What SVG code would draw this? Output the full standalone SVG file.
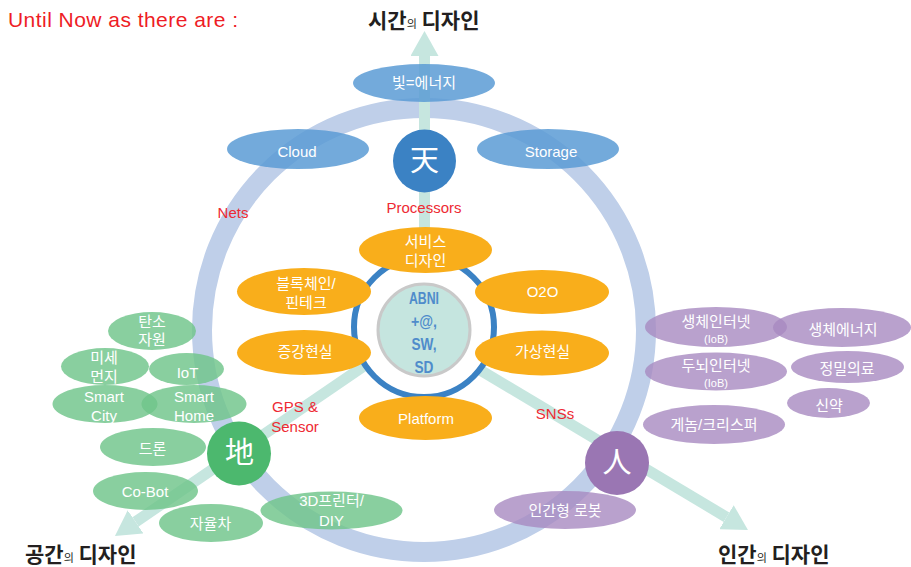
<svg xmlns="http://www.w3.org/2000/svg" width="911" height="567" viewBox="0 0 911 567">
<defs>
<style>
text{font-family:"Liberation Sans","Noto Sans CJK KR",sans-serif;}
.lbl{fill:#ffffff;font-size:15px;text-anchor:middle;}
.sm{font-size:11px;}
.red{fill:#ee2a33;font-size:15px;text-anchor:middle;}
.big{fill:#ffffff;font-size:29px;text-anchor:middle;font-family:"Noto Sans CJK KR","Noto Sans CJK SC",sans-serif;}
.head{fill:#231f20;font-size:21px;font-weight:bold;font-family:"Noto Sans CJK KR",sans-serif;}
.head .ui{font-size:11px;font-weight:normal;}
.core{fill:#4f8ccb;font-size:16px;font-weight:bold;text-anchor:middle;}
.axis{stroke:#c6e6df;stroke-width:11;fill:none;}
.blue{fill:#5b9bd5;fill-opacity:0.85;}
.orange{fill:#f9ae1b;}
.green{fill:#6fc48a;fill-opacity:0.82;}
.purple{fill:#a889c0;fill-opacity:0.8;}
</style>
<marker id="ah" viewBox="0 0 25 28" refX="0" refY="14" markerWidth="25" markerHeight="28" markerUnits="userSpaceOnUse" orient="auto">
<path d="M0,0 L25,14 L0,28 Z" fill="#c6e6df"/>
</marker>
</defs>
<rect width="911" height="567" fill="#ffffff"/>

<text x="8" y="27" fill="#ee1c25" font-size="21" textLength="230">Until Now as there are :</text>
<text class="head" x="368" y="28">시간<tspan class="ui">의</tspan> 디자인</text>
<text class="head" x="25" y="562">공간<tspan class="ui">의</tspan> 디자인</text>
<text class="head" x="718" y="562">인간<tspan class="ui">의</tspan> 디자인</text>

<circle id="cycle" cx="424" cy="330" r="222" fill="none" stroke="#bfcfe9" stroke-width="20"/>

<g id="connectors">
<line class="axis" x1="424.5" y1="330" x2="424.5" y2="56" marker-end="url(#ah)"/>
<line class="axis" x1="424" y1="325" x2="135.6" y2="521.9" marker-end="url(#ah)"/>
<line class="axis" x1="424" y1="336.5" x2="726.5" y2="517.2" marker-end="url(#ah)"/>
</g>

<g id="core">
<circle cx="424" cy="327" r="70" fill="#ffffff" stroke="#3b82c4" stroke-width="6"/>
<circle cx="424" cy="330" r="46" fill="#c5e5df" stroke="#c9c9c9" stroke-width="3"/>
<text class="core" x="424" y="304" textLength="30" lengthAdjust="spacingAndGlyphs">ABNI</text>
<text class="core" x="424" y="327" textLength="26" lengthAdjust="spacingAndGlyphs">+@,</text>
<text class="core" x="424" y="350" textLength="25" lengthAdjust="spacingAndGlyphs">SW,</text>
<text class="core" x="424" y="373" textLength="19" lengthAdjust="spacingAndGlyphs">SD</text>
</g>

<g id="edge-labels">
<text class="red" x="424" y="213">Processors</text>
<text class="red" x="233" y="218">Nets</text>
<text class="red" x="295" y="412">GPS &amp;</text>
<text class="red" x="295" y="432">Sensor</text>
<text class="red" x="555" y="419">SNSs</text>
</g>

<g id="n-light"><ellipse class="blue" cx="424" cy="83" rx="71" ry="19"/><text class="lbl" x="424" y="88">빛=에너지</text></g>
<g id="n-cloud"><ellipse class="blue" cx="298" cy="149" rx="71" ry="20"/><text class="lbl" x="297" y="157">Cloud</text></g>
<g id="n-storage"><ellipse class="blue" cx="548" cy="149" rx="71" ry="20"/><text class="lbl" x="551" y="157">Storage</text></g>

<g id="n-service"><ellipse class="orange" cx="425.5" cy="250" rx="66.5" ry="23"/><text class="lbl" x="425.5" y="247">서비스</text><text class="lbl" x="425.5" y="266">디자인</text></g>
<g id="n-block"><ellipse class="orange" cx="304" cy="291.5" rx="67" ry="23.5"/><text class="lbl" x="306" y="289">블록체인/</text><text class="lbl" x="306" y="308">핀테크</text></g>
<g id="n-o2o"><ellipse class="orange" cx="542" cy="292" rx="67" ry="22"/><text class="lbl" x="542.5" y="297">O2O</text></g>
<g id="n-ar"><ellipse class="orange" cx="304" cy="352.5" rx="67" ry="22.5"/><text class="lbl" x="305" y="357">증강현실</text></g>
<g id="n-vr"><ellipse class="orange" cx="542" cy="353" rx="67" ry="22.5"/><text class="lbl" x="542.5" y="357">가상현실</text></g>
<g id="n-platform"><ellipse class="orange" cx="425.5" cy="418" rx="66.5" ry="22"/><text class="lbl" x="426" y="424">Platform</text></g>

<g id="n-carbon"><ellipse class="green" cx="152" cy="331" rx="44" ry="19"/><text class="lbl" x="152" y="327">탄소</text><text class="lbl" x="152" y="345">자원</text></g>
<g id="n-dust"><ellipse class="green" cx="105" cy="366.5" rx="44" ry="18.5"/><text class="lbl" x="104" y="363">미세</text><text class="lbl" x="104" y="382">먼지</text></g>
<g id="n-iot"><ellipse class="green" cx="186.5" cy="369" rx="37.5" ry="16"/><text class="lbl" x="187.5" y="378">IoT</text></g>
<g id="n-city"><ellipse class="green" cx="105" cy="404" rx="52.5" ry="19"/><text class="lbl" x="104" y="402">Smart</text><text class="lbl" x="104" y="421">City</text></g>
<g id="n-home"><ellipse class="green" cx="194" cy="404" rx="52.5" ry="19"/><text class="lbl" x="194" y="402">Smart</text><text class="lbl" x="194" y="421">Home</text></g>
<g id="n-drone"><ellipse class="green" cx="153" cy="447" rx="53" ry="19"/><text class="lbl" x="152.5" y="454">드론</text></g>
<g id="n-cobot"><ellipse class="green" cx="145.5" cy="491" rx="52.5" ry="19"/><text class="lbl" x="145" y="497">Co-Bot</text></g>
<g id="n-car"><ellipse class="green" cx="211" cy="523" rx="52" ry="19"/><text class="lbl" x="210.5" y="529">자율차</text></g>
<g id="n-3d"><ellipse class="green" cx="331.5" cy="510.5" rx="71" ry="19"/><text class="lbl" x="331.5" y="506">3D프린터/</text><text class="lbl" x="331.5" y="526">DIY</text></g>

<g id="n-iob1"><ellipse class="purple" cx="716" cy="327" rx="71" ry="20"/><text class="lbl" x="716" y="327">생체인터넷</text><text class="lbl sm" x="716" y="343">(IoB)</text></g>
<g id="n-bioenergy"><ellipse class="purple" cx="842" cy="327.5" rx="69" ry="19.5"/><text class="lbl" x="843" y="335">생체에너지</text></g>
<g id="n-iob2"><ellipse class="purple" cx="716" cy="371.5" rx="71" ry="19"/><text class="lbl" x="716" y="371">두뇌인터넷</text><text class="lbl sm" x="716" y="387">(IoB)</text></g>
<g id="n-precision"><ellipse class="purple" cx="847.5" cy="367" rx="56.5" ry="16"/><text class="lbl" x="847" y="374">정밀의료</text></g>
<g id="n-drug"><ellipse class="purple" cx="828.5" cy="403" rx="41.5" ry="15"/><text class="lbl" x="829" y="411">신약</text></g>
<g id="n-genome"><ellipse class="purple" cx="714" cy="424.5" rx="71" ry="19.5"/><text class="lbl" x="714" y="430">게놈/크리스퍼</text></g>
<g id="n-robot"><ellipse class="purple" cx="565" cy="510" rx="71" ry="19"/><text class="lbl" x="565" y="516">인간형 로봇</text></g>

<g id="n-heaven"><circle cx="424.5" cy="161" r="31.5" fill="#3b82c4"/><text class="big" x="424.5" y="171">天</text></g>
<g id="n-earth"><circle cx="239" cy="453.5" r="32" fill="#4cb86e"/><text class="big" x="239.5" y="463">地</text></g>
<g id="n-human"><circle cx="617" cy="463" r="32" fill="#9a76b3"/><text class="big" x="617" y="473">人</text></g>
</svg>
